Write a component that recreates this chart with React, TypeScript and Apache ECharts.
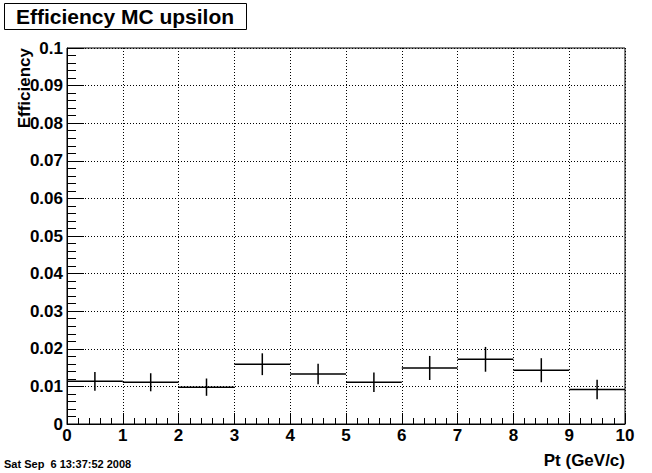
import React, { useEffect, useRef } from "react";
import * as echarts from "echarts";

const binLow = [0, 1, 2, 3, 4, 5, 6, 7, 8, 9];
const binHigh = [1, 2, 3, 4, 5, 6, 7, 8, 9, 10];
const efficiency = [0.01135, 0.0111, 0.0098, 0.0159, 0.0133, 0.0111, 0.0149, 0.0172, 0.0143, 0.0092];
const efficiencyErr = [0.0025, 0.0024, 0.0023, 0.0029, 0.0027, 0.0026, 0.0032, 0.0033, 0.0032, 0.0026];
const yTickLabels = ["0", "0.01", "0.02", "0.03", "0.04", "0.05", "0.06", "0.07", "0.08", "0.09", "0.1"];
const xTickLabels = ["0", "1", "2", "3", "4", "5", "6", "7", "8", "9", "10"];

const FONT = "'Liberation Sans', Arial, Helvetica, sans-serif";

export default function App() {
  const ref = useRef<HTMLDivElement>(null);
  useEffect(() => {
    document.body.style.margin = "0";
    const chart = echarts.init(ref.current!, null, { renderer: "svg" });
    const data = binLow.map((lo, i) => [lo, binHigh[i], efficiency[i], efficiencyErr[i]]);
    chart.setOption({
      animation: false,
      backgroundColor: "#ffffff",
      grid: {
        left: 67,
        top: 48,
        right: 27,
        bottom: 49,
        show: true,
        borderColor: "#000",
        borderWidth: 1,
        backgroundColor: "transparent",
      },
      xAxis: {
        type: "value",
        min: 0,
        max: 10,
        interval: 1,
        axisLine: { show: true, lineStyle: { color: "#000", width: 1 } },
        axisTick: { show: true, inside: true, length: 11, lineStyle: { color: "#000" } },
        minorTick: { show: true, splitNumber: 5, length: 6, lineStyle: { color: "#000" } },
        splitLine: { show: true, lineStyle: { color: "#000", type: [1, 2], width: 1 } },
        axisLabel: {
          color: "#000",
          fontFamily: FONT,
          fontWeight: "bold",
          fontSize: 17,
          margin: 3,
          formatter: (v: number) => xTickLabels[Math.round(v)] ?? String(v),
        },
      },
      yAxis: {
        type: "value",
        min: 0,
        max: 0.1,
        interval: 0.01,
        axisLine: { show: true, lineStyle: { color: "#000", width: 1 } },
        axisTick: { show: true, inside: true, length: 17, lineStyle: { color: "#000" } },
        minorTick: { show: true, splitNumber: 5, length: 9, lineStyle: { color: "#000" } },
        splitLine: { show: true, lineStyle: { color: "#000", type: [1, 2], width: 1 } },
        axisLabel: {
          color: "#000",
          fontFamily: FONT,
          fontWeight: "bold",
          fontSize: 17,
          margin: 4,
          formatter: (v: number) => yTickLabels[Math.round(v * 100)] ?? String(v),
        },
      },
      series: [
        {
          type: "custom",
          data,
          encode: { x: [0, 1], y: 2 },
          renderItem: (params: any, api: any) => {
            const lo = api.value(0);
            const hi = api.value(1);
            const y = api.value(2);
            const e = api.value(3);
            const mid = (lo + hi) / 2;
            const pL = api.coord([lo, y]);
            const pR = api.coord([hi, y]);
            const pT = api.coord([mid, y + e]);
            const pB = api.coord([mid, y - e]);
            const style = { stroke: "#000", lineWidth: 1.5 };
            return {
              type: "group",
              children: [
                { type: "line", shape: { x1: pL[0], y1: pL[1], x2: pR[0], y2: pR[1] }, style },
                { type: "line", shape: { x1: pT[0], y1: pT[1], x2: pB[0], y2: pB[1] }, style },
              ],
            };
          },
        },
      ],
      graphic: [
        {
          type: "rect",
          shape: { x: 4.5, y: 3.5, width: 242, height: 26 },
          style: { fill: "#fff", stroke: "#000", lineWidth: 1 },
        },
        {
          type: "text",
          x: 125,
          y: 16,
          style: {
            text: "Efficiency MC upsilon",
            fontFamily: FONT,
            fontWeight: "bold",
            fontSize: 21,
            fill: "#000",
            align: "center",
            verticalAlign: "middle",
          },
        },
        {
          type: "text",
          x: 24,
          y: 48,
          rotation: Math.PI / 2,
          style: {
            text: "Efficiency",
            fontFamily: FONT,
            fontWeight: "bold",
            fontSize: 17,
            fill: "#000",
            align: "right",
            verticalAlign: "middle",
          },
        },
        {
          type: "text",
          x: 625,
          y: 460,
          style: {
            text: "Pt (GeV/c)",
            fontFamily: FONT,
            fontWeight: "bold",
            fontSize: 17,
            fill: "#000",
            align: "right",
            verticalAlign: "middle",
          },
        },
        {
          type: "text",
          x: 4,
          y: 464,
          style: {
            text: "Sat Sep  6 13:37:52 2008",
            fontFamily: FONT,
            fontWeight: "bold",
            fontSize: 11,
            fill: "#000",
            align: "left",
            verticalAlign: "middle",
          },
        },
      ],
    });
    return () => chart.dispose();
  }, []);
  return (
    <div
      ref={ref}
      style={{ position: "fixed", left: 0, top: 0, width: 652, height: 473, background: "#fff" }}
    />
  );
}
